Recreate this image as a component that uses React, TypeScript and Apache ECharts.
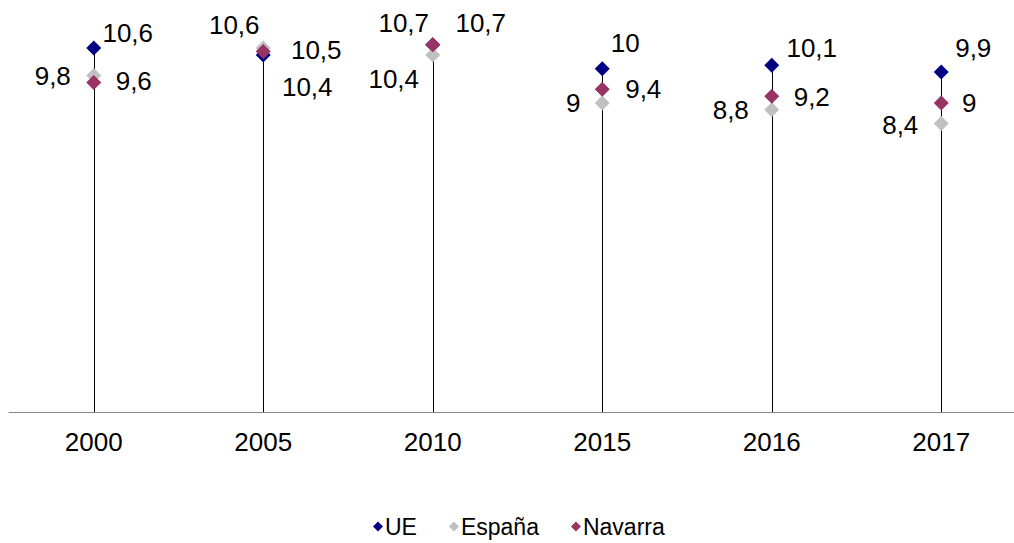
import React, { useEffect, useRef } from "react";
import * as echarts from "echarts";

const categories = ["2000", "2005", "2010", "2015", "2016", "2017"];
const ueValues = [10.6, 10.4, 10.7, 10.0, 10.1, 9.9];
const espanaValues = [9.8, 10.6, 10.4, 9.0, 8.8, 8.4];
const navarraValues = [9.6, 10.5, 10.7, 9.4, 9.2, 9.0];

// label offsets (styling only): [dx, dy] from each marker
const ueLabelOffsets = [[34, -15], [44, 32], [-29, -22], [23, -26], [40, -17], [32, -24]];
const espanaLabelOffsets = [[-41, 0], [-29, -23], [-39, 24], [-29, 0], [-41, 0], [-41, 1]];
const navarraLabelOffsets = [[40, -1], [53, -2], [48, -22], [41, 0], [40, 1], [28, 0]];

const FONT = "'Liberation Sans', Arial, sans-serif";
const fmt = (v: number) => String(v).replace(".", ",");

function buildSeriesData(values: number[], offsets: number[][]) {
  return values.map((v, i) => ({
    value: [i, v],
    label: { offset: offsets[i] },
  }));
}

export default function App() {
  const ref = useRef<HTMLDivElement>(null);
  useEffect(() => {
    if (!ref.current) return;
    const chart = echarts.init(ref.current, null, { renderer: "svg" });
    const maxValues = categories.map((_, i) =>
      Math.max(ueValues[i], espanaValues[i], navarraValues[i])
    );
    const labelCfg = {
      show: true,
      position: "inside",
      color: "#000",
      fontSize: 26,
      fontFamily: FONT,
      textBorderWidth: 0,
      formatter: (p: any) => fmt(p.value[1]),
    };
    const option: any = {
      animation: false,
      backgroundColor: "#fff",
      grid: { left: 9, right: 4, top: -3, bottom: 131, containLabel: false },
      xAxis: {
        type: "category",
        data: categories,
        boundaryGap: true,
        axisLine: { show: true, lineStyle: { color: "#868686", width: 1 } },
        axisTick: { show: false },
        axisLabel: { color: "#000", fontSize: 26, fontFamily: FONT, margin: 17 },
        splitLine: { show: false },
      },
      yAxis: {
        type: "value",
        min: 0,
        max: 12,
        show: false,
      },
      legend: {
        left: 373,
        top: 515,
        padding: 0,
        icon: "diamond",
        itemWidth: 10,
        itemHeight: 10,
        itemGap: 32,
        textStyle: { color: "#000", fontSize: 23, fontFamily: FONT, padding: [0, 0, 0, -3] },
        data: ["UE", "España", "Navarra"],
      },
      series: [
        {
          type: "custom",
          name: "drop",
          silent: true,
          z: 1,
          data: maxValues.map((m, i) => [i, m]),
          renderItem: (params: any, api: any) => {
            const top = api.coord([api.value(0), api.value(1)]);
            const bottom = api.coord([api.value(0), 0]);
            return {
              type: "line",
              shape: { x1: Math.round(top[0]) + 0.5, y1: top[1], x2: Math.round(bottom[0]) + 0.5, y2: bottom[1] },
              style: { stroke: "#000", lineWidth: 1 },
            };
          },
        },
        {
          type: "scatter",
          name: "UE",
          symbol: "diamond",
          symbolSize: 15,
          z: 3,
          itemStyle: { color: "#000080", opacity: 1 },
          label: labelCfg,
          data: buildSeriesData(ueValues, ueLabelOffsets),
        },
        {
          type: "scatter",
          name: "España",
          symbol: "diamond",
          symbolSize: 15,
          z: 4,
          itemStyle: { color: "#C0C0C0", opacity: 1 },
          label: labelCfg,
          data: buildSeriesData(espanaValues, espanaLabelOffsets),
        },
        {
          type: "scatter",
          name: "Navarra",
          symbol: "diamond",
          symbolSize: 15,
          z: 5,
          itemStyle: { color: "#993366", opacity: 1 },
          label: labelCfg,
          data: buildSeriesData(navarraValues, navarraLabelOffsets),
        },
      ],
    };
    chart.setOption(option);
    return () => chart.dispose();
  }, []);
  return (
    <div
      style={{ position: "absolute", left: 0, top: 0, width: 1014, height: 543, overflow: "hidden", background: "#fff" }}
    >
      <div ref={ref} style={{ width: 1030, height: 543 }} />
    </div>
  );
}
